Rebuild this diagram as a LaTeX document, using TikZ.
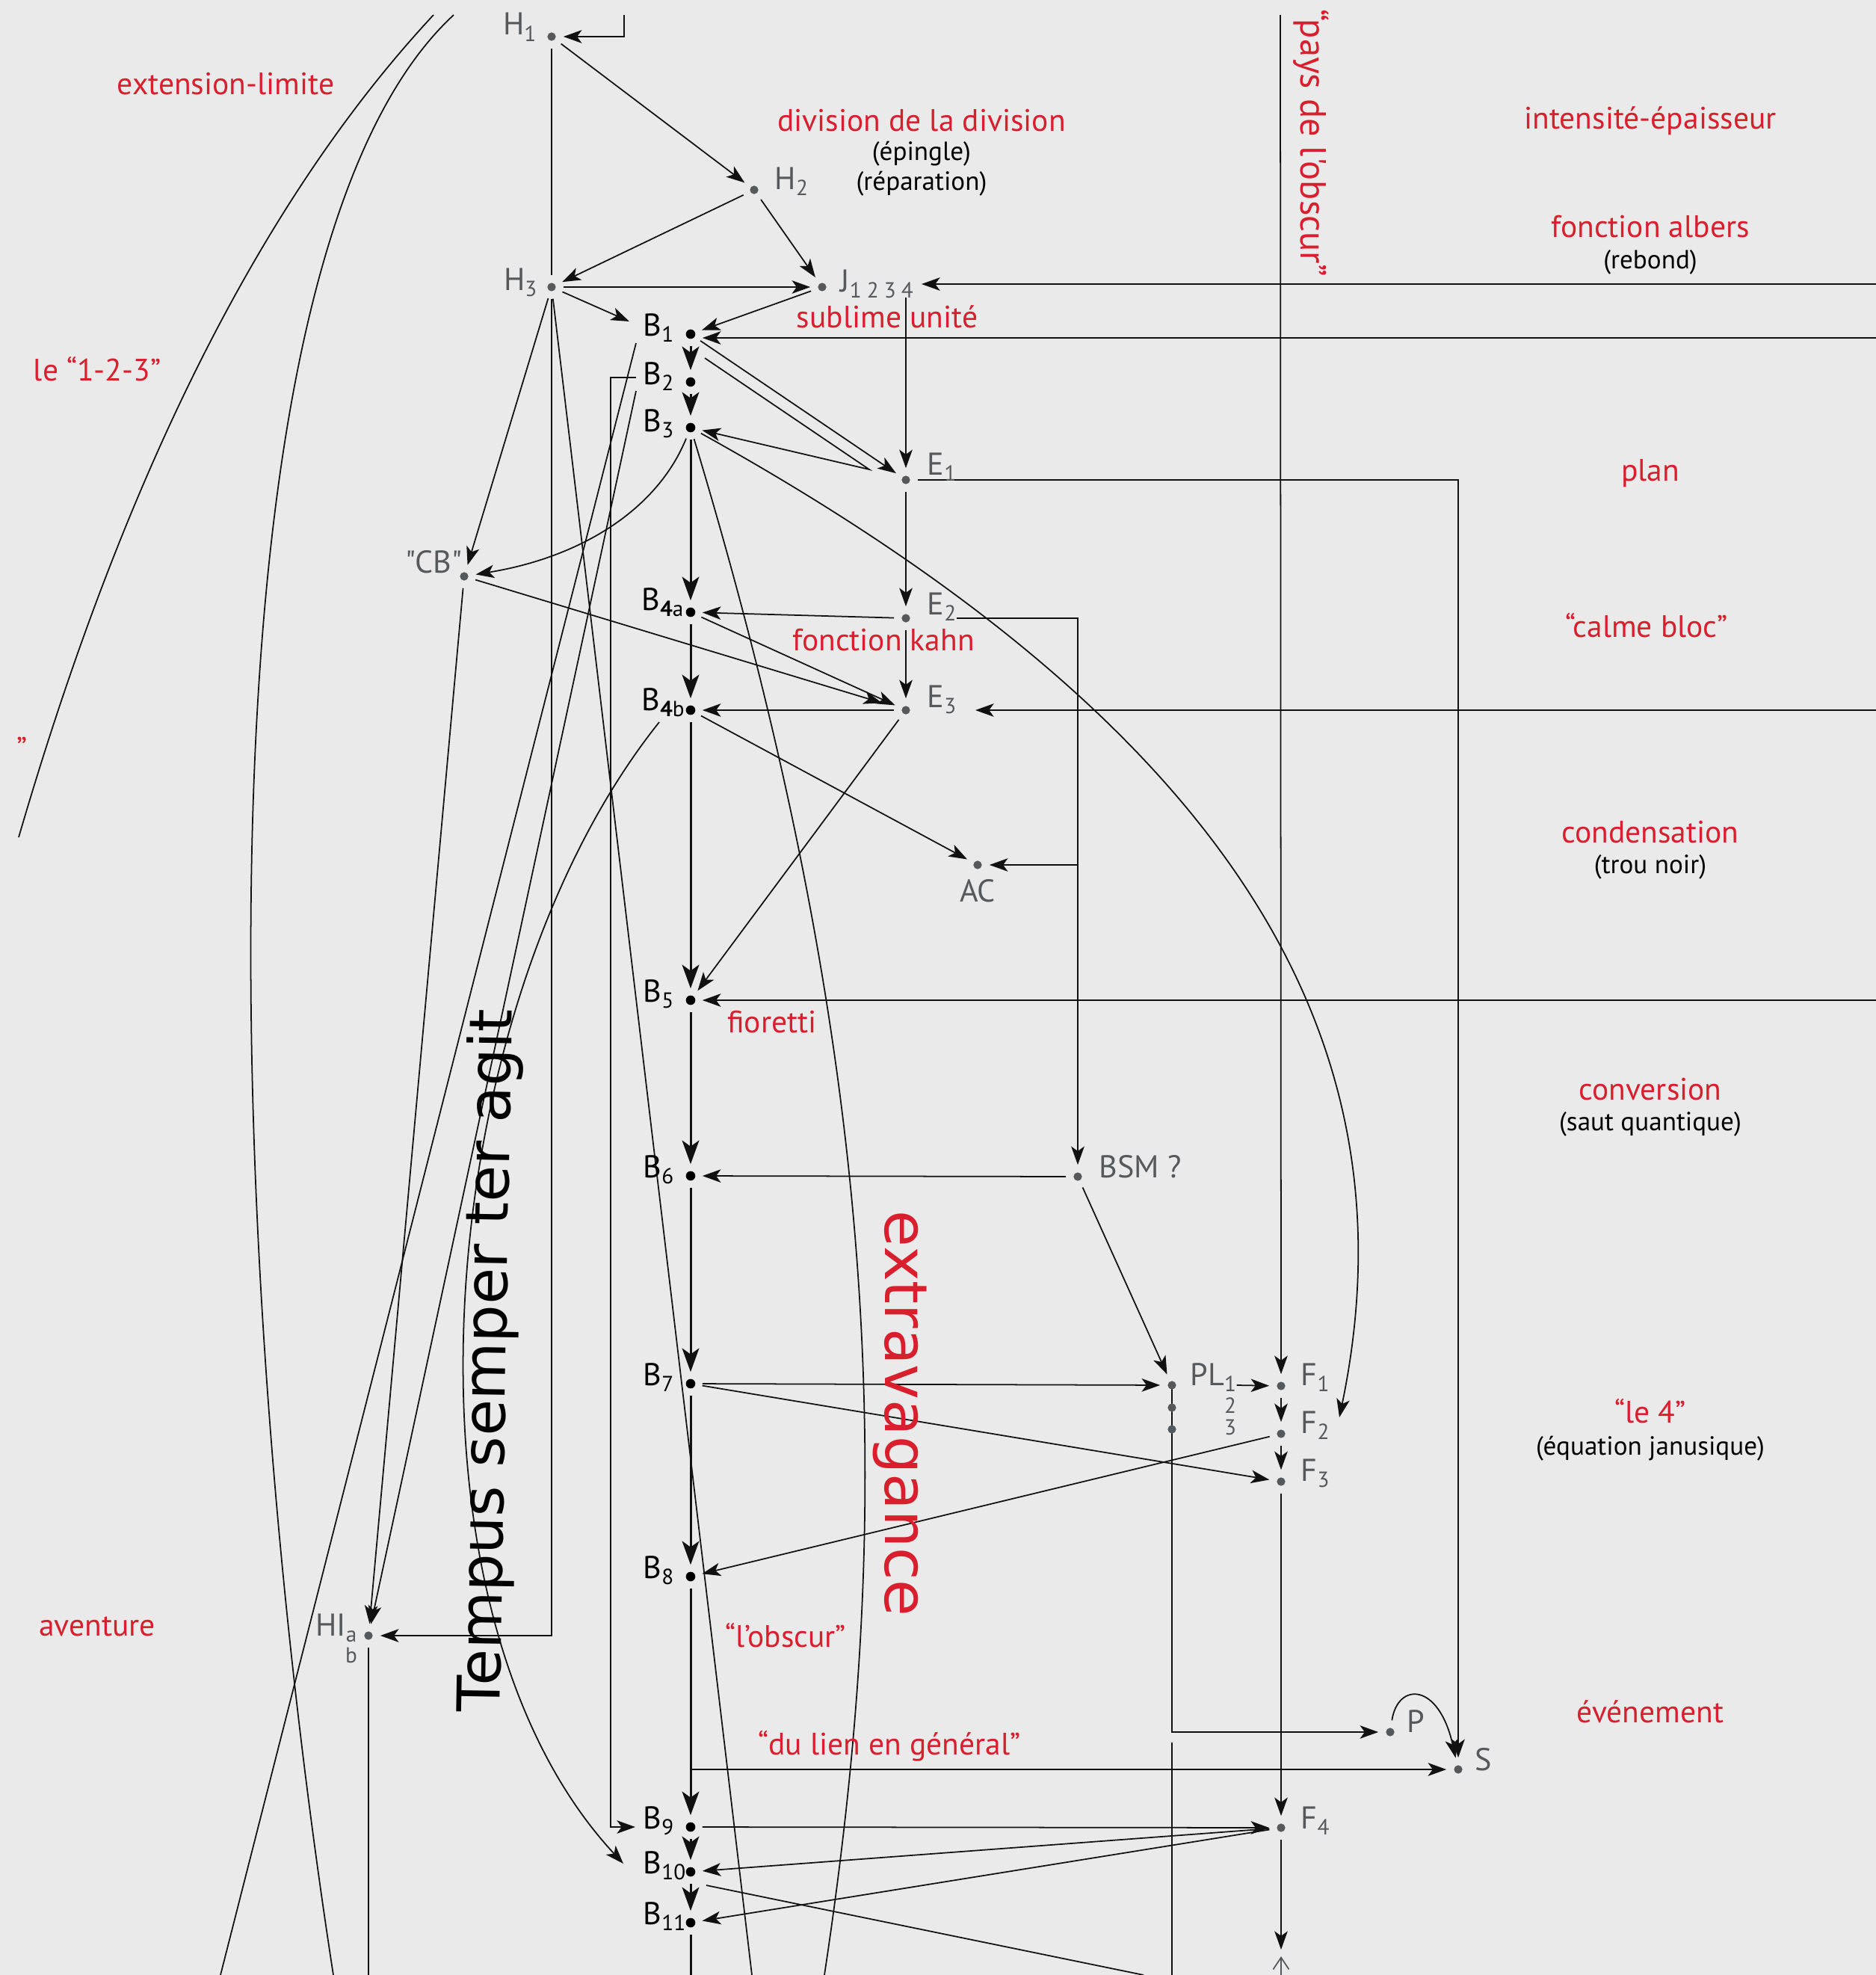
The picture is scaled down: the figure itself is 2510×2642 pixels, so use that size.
\documentclass[tikz,border=0pt]{standalone}
\usepackage{fontspec}
\setmainfont{PT Sans}
\newfontfamily\rawfont{PT Sans}
\newfontfamily\vfont{DejaVu Sans}
\usetikzlibrary{arrows.meta,calc}
\definecolor{bgc}{HTML}{EAEAEA}
\definecolor{redc}{HTML}{D91E2D}
\definecolor{grayc}{HTML}{55595C}
\definecolor{linec}{HTML}{111111}
\pgfdeclarelayer{bglayer}
\pgfdeclarelayer{lines}
\pgfsetlayers{bglayer,lines,main}
\newcommand\sbs[1]{\raisebox{-2.4pt}{\fontsize{8.3pt}{9pt}\selectfont #1}}
\begin{document}
\begin{tikzpicture}[x=0.01cm,y=-0.01cm,
  ln/.style={line width=0.5pt, draw=linec},
  arr/.style={ln, -{Stealth[length=7pt,width=5pt,inset=1.8pt]}},
  sp/.style={line width=0.85pt, draw=linec},
  sparr/.style={sp, -{Stealth[length=9pt,width=6.5pt,inset=2.3pt]}},
  grayarr/.style={line width=0.5pt, draw=grayc, -{Straight Barb[length=4.5pt,width=6pt]}},
  bdot/.style={circle, fill=black, inner sep=0pt, minimum size=3.6pt, outer sep=2.7pt},
  gdot/.style={circle, fill=grayc, inner sep=0pt, minimum size=3.2pt, outer sep=2.9pt},
  blab/.style={font=\fontsize{12pt}{14pt}\selectfont, text=black, inner sep=0pt},
  glab/.style={font=\fontsize{12pt}{14pt}\selectfont, text=grayc, inner sep=0pt},
  smlab/.style={font=\fontsize{8.3pt}{9pt}\selectfont, text=grayc, inner sep=0pt},
  redlab/.style={font=\fontsize{11.8pt}{14pt}\selectfont, text=redc, inner sep=0pt},
  sublab/.style={font=\fontsize{10pt}{12pt}\selectfont, text=black, inner sep=0pt}
]
\begin{pgfonlayer}{bglayer}
\fill[bgc] (0,0) rectangle (2510,2642);
\end{pgfonlayer}
\useasboundingbox (0,0) rectangle (2510,2642);

% ---------- dots ----------
\node[gdot] (H1) at (738,49) {};
\node[gdot] (H2) at (1009,254) {};
\node[gdot] (H3) at (738,384) {};
\node[gdot] (J) at (1100,384) {};
\node[bdot] (B1) at (924,447) {};
\node[bdot] (B2) at (924,511) {};
\node[bdot] (B3) at (924,572) {};
\node[gdot] (E1) at (1212,642) {};
\node[gdot] (CB) at (621,771) {};
\node[bdot] (B4a) at (924,819) {};
\node[gdot] (E2) at (1212,827) {};
\node[bdot] (B4b) at (924,950) {};
\node[gdot] (E3) at (1212,950) {};
\node[gdot] (AC) at (1308,1157) {};
\node[bdot] (B5) at (924,1338) {};
\node[bdot] (B6) at (924,1573) {};
\node[gdot] (BSM) at (1442,1574) {};
\node[bdot] (B7) at (924,1851) {};
\node[gdot] (PL1) at (1568,1853) {};
\node[gdot] (PL2) at (1568,1883) {};
\node[gdot] (PL3) at (1568,1912) {};
\node[gdot] (F1) at (1714,1854) {};
\node[gdot] (F2) at (1714,1918) {};
\node[gdot] (F3) at (1714,1982) {};
\node[bdot] (B8) at (924,2109) {};
\node[gdot] (HI) at (493,2188) {};
\node[gdot] (P) at (1860,2317) {};
\node[gdot] (S) at (1951,2367) {};
\node[bdot] (B9) at (924,2444) {};
\node[gdot] (F4) at (1714,2445) {};
\node[bdot] (B10) at (924,2504) {};
\node[bdot] (B11) at (924,2572) {};

% ---------- node labels ----------
\node[glab, anchor=base east] (H1l) at (718,47) {H\sbs{1}};
\node[glab, anchor=base west] (H2l) at (1036,253) {H\sbs{2}};
\node[glab, anchor=base east] (H3l) at (719,388) {H\sbs{3}};
\node[glab, anchor=base west] (Jl) at (1124,390) {J\sbs{1\hspace{2pt}2\hspace{2pt}3\hspace{2pt}4}};
\node[blab, anchor=base west] (B1l) at (860,449) {B\sbs{1}};
\node[blab, anchor=base west] (B2l) at (860,514) {B\sbs{2}};
\node[blab, anchor=base west] (B3l) at (860,577) {B\sbs{3}};
\node[blab, anchor=base west] (B4al) at (858,816) {B\sbs{\textbf{4}a}};
\node[blab, anchor=base west] (B4bl) at (858,950) {B\sbs{\textbf{4}b}};
\node[blab, anchor=base west] (B5l) at (860,1340) {B\sbs{5}};
\node[blab, anchor=base west] (B6l) at (860,1575) {B\sbs{6}};
\node[blab, anchor=base west] (B7l) at (860,1853) {B\sbs{7}};
\node[blab, anchor=base west] (B8l) at (860,2111) {B\sbs{8}};
\node[blab, anchor=base west] (B9l) at (860,2446) {B\sbs{9}};
\node[blab, anchor=base west] (B10l) at (860,2506) {B\sbs{10}};
\node[blab, anchor=base west] (B11l) at (860,2574) {B\sbs{11}};
\node[glab, anchor=base west] (E1l) at (1240,635) {E\sbs{1}};
\node[glab, anchor=base west] (E2l) at (1240,822) {E\sbs{2}};
\node[glab, anchor=base west] (E3l) at (1240,946) {E\sbs{3}};
\node[glab, anchor=base east, font=\rawfont\fontsize{12pt}{14pt}\selectfont] (CBl) at (619,766) {"CB"};
\node[glab, anchor=north] (ACl) at (1308,1176) {AC};
\node[glab, anchor=base west] (BSMl) at (1470,1575) {BSM ?};
\node[glab, anchor=base west] (PL1l) at (1592,1853) {PL\sbs{1}};
\node[smlab] (PL2l) at (1646,1880) {2};
\node[smlab] (PL3l) at (1646,1909) {3};
\node[glab, anchor=base west] (F1l) at (1740,1853) {F\sbs{1}};
\node[glab, anchor=base west] (F2l) at (1740,1917) {F\sbs{2}};
\node[glab, anchor=base west] (F3l) at (1740,1981) {F\sbs{3}};
\node[glab, anchor=base west] (F4l) at (1740,2446) {F\sbs{4}};
\node[glab, anchor=base west] (Pl) at (1882,2317) {P};
\node[glab, anchor=base west] (Sl) at (1973,2368) {S};
\node[glab, anchor=base east] (HIl) at (478,2188) {HI\sbs{a}};
\node[glab, font=\fontsize{8.3pt}{9pt}\selectfont] (HIb) at (470,2214) {b};

% ---------- free ends ----------
\coordinate (Htop) at (835,20);
\coordinate (Ftop) at (1713,20);
\coordinate (B1in) at (842,430);
\coordinate (Rj) at (2510,380);
\coordinate (Jin) at (1233,380);
\coordinate (Rb1) at (2510,452);
\coordinate (Re3) at (2510,950);
\coordinate (E3in) at (1305,950);
\coordinate (Rb5) at (2510,1338);
\coordinate (J4) at (1212,398);
\coordinate (Ec) at (1163,628);
\coordinate (F2in) at (1792,1896);
\coordinate (Xbot) at (1103,2642);
\coordinate (Hbot) at (1006,2642);
\coordinate (B1s) at (851,459);
\coordinate (Lbot) at (295,2642);
\coordinate (B2s) at (851,523);
\coordinate (B2w) at (851,505);
\coordinate (B2c) at (817,505);
\coordinate (B9in) at (850,2444);
\coordinate (ACbr) at (1442,1157);
\coordinate (PLs) at (1568,2331);
\coordinate (PLbot) at (1568,2642);
\coordinate (spS) at (924,2367);
\coordinate (Bbot) at (924,2642);
\coordinate (Rbot) at (1530,2642);
\coordinate (F4end) at (1714,2608);
\coordinate (Gbot) at (1714,2642);
\coordinate (Gtip) at (1714,2617);
\coordinate (B4bs) at (882,966);
\coordinate (B10in) at (834,2493);
\coordinate (HIbot) at (493,2642);
\coordinate (C1a) at (580,20);
\coordinate (C1b) at (25,1120);
\coordinate (C2a) at (607,20);
\coordinate (C2b) at (446,2642);

% ---------- connectors ----------
\begin{pgfonlayer}{lines}
\draw[ln] (C1a) .. controls (308,312) and (137,736) .. (C1b);
\draw[ln] (C2a) .. controls (250,350) and (300,1700) .. (C2b);
\draw[arr] (Htop) |- (H1);
\draw[arr] (H1) -- (H2);
\draw[ln] (H1) -- (H3);
\draw[arr] (H3) |- (HI);
\draw[arr] (H2) -- (H3);
\draw[arr] (H2) -- (J);
\draw[arr] (H3) -- (J);
\draw[arr] (H3) -- (B1in);
\draw[arr] (J) -- (B1);
\draw[arr] (Rj) -- (Jin);
\draw[arr] (Rb1) -- (B1.east |- Rb1);
\draw[arr] (Re3) -- (E3in);
\draw[arr] (Rb5) -- (B5);
\draw[arr] (J4) -- (E1);
\draw[arr] (B1) -- (E1);
\draw[arr] ($(B1)+(19,32)$) -- (Ec) -- (B3);
\draw[sparr] (B1) -- (B2);
\draw[sparr] (B2) -- (B3);
\draw[sparr] (B3) -- (B4a);
\draw[sparr] (B4a) -- (B4b);
\draw[sparr] (B4b) -- (B5);
\draw[sparr] (B5) -- (B6);
\draw[sparr] (B6) -- (B7);
\draw[sparr] (B7) -- (B8);
\draw[sparr] (B8) -- (B9);
\draw[sparr] (B9) -- (B10);
\draw[sparr] (B10) -- (B11);
\draw[sp] (B11) -- (Bbot);
\draw[arr] (B3) .. controls (880,680) and (780,745) .. (CB);
\draw[arr] (B3) .. controls (1660,980) and (1895,1400) .. (F2in);
\draw[ln] (B3) .. controls (1194,1467) and (1193,2048) .. (Xbot);
\draw[arr] (H3) -- (CB);
\draw[ln] (H3) -- (Hbot);
\draw[ln] (B1s) -- (Lbot);
\draw[arr] (B2s) -- (HI);
\draw[arr] (B2w) -- (B2c) |- (B9in);
\draw[arr, shorten >=5pt] (CB) -- (E3);
\draw[arr] (CB) -- (HI);
\draw[arr] (E1) -| (S);
\draw[arr] (E1) -- (E2);
\draw[arr] (E2) -- (E3);
\draw[arr] (E2) -- (B4a);
\draw[arr] (E3) -- (B4b);
\draw[arr] (B4a) -- (E3);
\draw[arr] (B4b) -- (AC);
\draw[arr] (E3) -- (B5);
\draw[arr] (E2l.east |- E2) -| (BSM);
\draw[arr] (ACbr) -- (AC);
\draw[arr] (BSM) -- (B6);
\draw[arr] (BSM) -- (PL1);
\draw[arr] (B7) -- (PL1);
\draw[arr] (B7) -- (F3);
\draw[arr] (F2) -- (B8);
\draw[arr] (Ftop) -- (F1);
\draw[arr] (PL1l.east |- PL1) -- (F1);
\draw[arr] (F1) -- (F2);
\draw[arr] (F2) -- (F3);
\draw[arr] (F3) -- (F4);
\draw[ln] (PL1.center) -- (PL3.center);
\draw[arr] (PL3.center) |- (P);
\draw[ln] (PLs) -- (PLbot);
\draw[arr] (P) .. controls (1870,2250) and (1925,2250) .. (S);
\draw[arr] (spS) -- (S);
\draw[arr] (B9) -- (F4);
\draw[arr] (F4) -- (B10);
\draw[arr] (F4) -- (B11);
\draw[ln] ($(B10)+(21,18)$) -- (Rbot);
\draw[arr] (F4) -- (F4end);
\draw[grayarr] (Gbot) -- (Gtip);
\draw[arr] (B4bs) .. controls (575,1350) and (515,2150) .. (B10in);
\draw[ln] (HI) -- (HIbot);
\end{pgfonlayer}

% ---------- texts ----------
\node[redlab, anchor=base] (tExt) at (302,126) {extension-limite};
\node[redlab, anchor=base] (tOne) at (130,509) {le “1-2-3”};
\node[redlab, anchor=base] (tQ) at (30,1015) {”};
\node[redlab, anchor=base] (tAv) at (130,2188) {aventure};
\node[redlab, anchor=base] (tDiv) at (1233,175) {division de la division};
\node[sublab, anchor=base] (tEp) at (1233,214) {(épingle)};
\node[sublab, anchor=base] (tRep) at (1233,254) {(réparation)};
\node[redlab, anchor=base] (tSub) at (1187,438) {sublime unité};
\node[redlab, anchor=base] (tKahn) at (1182,870) {fonction kahn};
\node[redlab, anchor=base] (tFio) at (1033,1381) {fioretti};
\node[redlab, anchor=base] (tObs) at (1051,2203) {“l’obscur”};
\node[redlab, anchor=base] (tLien) at (1190,2347) {“du lien en général”};
\node[redlab, anchor=base] (tInt) at (2208,172) {intensité-épaisseur};
\node[redlab, anchor=base] (tAlb) at (2208,317) {fonction albers};
\node[sublab, anchor=base] (tReb) at (2208,359) {(rebond)};
\node[redlab, anchor=base] (tPlan) at (2208,643) {plan};
\node[redlab, anchor=base] (tCalme) at (2203,852) {“calme bloc”};
\node[redlab, anchor=base] (tCond) at (2208,1127) {condensation};
\node[sublab, anchor=base] (tTrou) at (2208,1168) {(trou noir)};
\node[redlab, anchor=base] (tConv) at (2208,1471) {conversion};
\node[sublab, anchor=base] (tSaut) at (2208,1512) {(saut quantique)};
\node[redlab, anchor=base] (tLe4) at (2208,1903) {“le 4”};
\node[sublab, anchor=base] (tJan) at (2208,1946) {(équation janusique)};
\node[redlab, anchor=base] (tEv) at (2208,2304) {événement};
\node[redlab, rotate=-90, font=\rawfont\fontsize{13.8pt}{16pt}\selectfont] (tPays) at (1754,191) {“pays de l'obscur”};
\node[font=\vfont\fontsize{22.5pt}{24pt}\selectfont, text=redc, rotate=-90, inner sep=0pt] (tExtra) at (1204,1891) {extravagance};
\node[font=\vfont\fontsize{22.5pt}{24pt}\selectfont, text=black, rotate=89, inner sep=0pt] (tTemp) at (655,1820) {Tempus semper ter agit};
\end{tikzpicture}
\end{document}
